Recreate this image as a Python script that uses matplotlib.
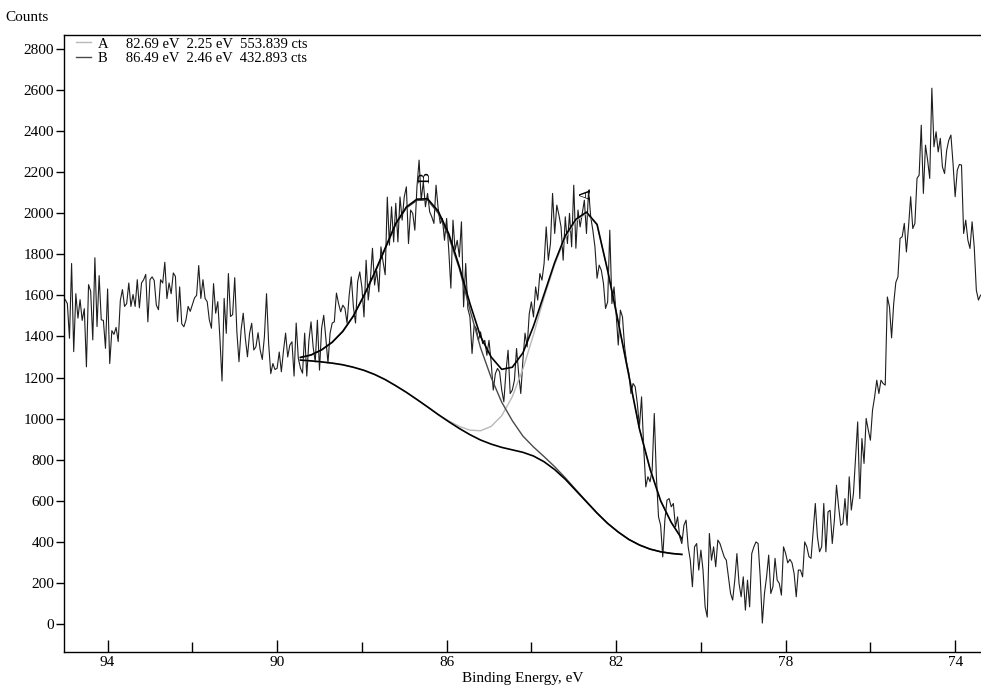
import numpy as np
import matplotlib
matplotlib.use("Agg")
import matplotlib.pyplot as plt
import matplotlib.ticker as mticker

plt.rcParams['font.family'] = 'Liberation Serif'
plt.rcParams['font.size'] = 11

# ---- data ----
e_start, e_step = 95.0, 0.05     # scan grid, eV (high -> low)

counts_a1 = [1579, 1560, 1391, 1755, 1326, 1608, 1489, 1579, 1478, 1535,
             1252, 1652, 1620, 1383, 1783, 1448, 1696, 1481, 1478, 1342,
             1631, 1268, 1428, 1410, 1444, 1375, 1575, 1628, 1546, 1560,
             1660, 1546, 1604, 1546, 1676, 1539, 1660, 1676, 1702, 1471,
             1676, 1690, 1672, 1552, 1530, 1676, 1660, 1761, 1584, 1660,
             1608, 1709, 1692, 1472, 1641, 1461, 1447, 1481, 1546, 1522,
             1555, 1587, 1600, 1745, 1585, 1676, 1585, 1569, 1481, 1440,
             1657, 1513, 1569, 1391, 1183, 1585, 1415, 1706, 1497, 1506,
             1686, 1423, 1277, 1431, 1513, 1391, 1301, 1415, 1464, 1334,
             1350, 1418, 1334, 1288, 1399, 1608, 1366, 1219, 1268, 1239,
             1245, 1324]
counts_a2 = [1228, 1330, 1416, 1300, 1358, 1374, 1207, 1465, 1294, 1246,
             1221, 1416, 1207, 1380, 1471, 1349, 1276, 1479, 1236, 1440,
             1503, 1390, 1270, 1416, 1465, 1471, 1611, 1560, 1520, 1552,
             1537, 1465, 1600, 1690, 1544, 1465, 1666, 1714, 1640, 1495,
             1771, 1577, 1674, 1829, 1650, 1720, 1617, 1836, 1763, 1700,
             2078, 1844, 2031]
counts_b = [1860, 2048, 1860, 2079, 1966, 2079, 2128, 1852, 2015, 1999,
            1917, 2128, 2258, 2063, 2152, 2031, 2096, 2006, 1982, 1950,
            2136, 2023, 1950, 1974, 1868, 1974, 1820, 1635, 1966, 1820,
            1868, 1787, 1958, 1544, 1755, 1536, 1495, 1317, 1454, 1438,
            1381, 1422, 1365, 1381, 1308, 1381, 1276, 1139, 1219, 1244,
            1228, 1139, 1082, 1228, 1333, 1122, 1139, 1187, 1341, 1219,
            1122, 1284, 1416, 1349, 1511, 1568, 1495, 1641, 1577, 1706,
            1674, 1755, 1933, 1771, 1852, 2096, 1901, 2039, 1991, 1933,
            1771, 1982, 1852, 1999, 1836, 2136, 1829, 2015, 1933, 1999,
            2063, 1901, 2112, 1982, 1917, 1836, 1683, 1747, 1722, 1660,
            1536, 1568, 1917]
counts_c = [1560, 1641, 1511, 1358, 1528, 1495, 1349, 1270, 1221, 1122,
            1171, 1155, 1074, 960, 1106, 863, 668, 717, 693, 749,
            1025, 717, 522, 481, 327, 506, 603, 611, 571, 587,
            473, 522, 425, 392, 481, 506, 376, 311,
            182, 376, 392, 263, 360, 263, 84, 34, 441,
            311, 376, 279, 409, 392, 360, 327, 311, 230,
            149, 117, 214, 343, 198, 133, 230, 68, 214, 84,
            343, 376, 400, 392, 230]
counts_d = [5, 149, 230, 336, 149, 182, 320, 214, 198,
            141, 376, 344, 298, 315, 298, 246, 133, 263, 263,
            230, 400, 376, 328, 320, 457, 587, 425, 352, 376,
            587, 352, 546, 554, 392, 506, 676, 571, 481,
            489, 611, 481, 717, 555, 636, 814, 984, 611, 903,
            782, 1001, 944, 895, 1041, 1106, 1187, 1122, 1187]
counts_e = [1171, 1163, 1592, 1544, 1393, 1560, 1663, 1690, 1877, 1885,
            1950, 1811, 1934, 2080, 1925, 1950, 2169, 2185, 2428, 2096,
            2331, 2258, 2169, 2608, 2323, 2396, 2298, 2364, 2225,
            2193, 2306, 2355, 2380, 2242, 2080, 2209, 2237, 2234,
            1901, 1966, 1869, 1828, 1958, 1836, 1625, 1577, 1601]

counts = np.array(counts_a1 + counts_a2 + counts_b + counts_c + counts_d + counts_e)
energy = np.round(e_start - e_step * np.arange(len(counts)), 2)

# fit curves, sampled every 0.25 eV over the fit window
fit_e_start, fit_step, fit_n = 89.45, 0.25, 37
background = [1285, 1281, 1276, 1270, 1262, 1250, 1235, 1215, 1190, 1160,
              1128, 1093, 1057, 1020, 985, 952, 922, 896, 876, 860,
              848, 836, 818, 790, 752, 705, 650, 595, 540, 490,
              448, 412, 385, 365, 352, 344, 339]
envelope = [1298, 1310, 1335, 1372, 1425, 1500, 1600, 1710, 1830, 1950,
            2030, 2068, 2070, 2010, 1900, 1740, 1560, 1400, 1300, 1240,
            1250, 1320, 1450, 1605, 1760, 1890, 1970, 2005, 1945, 1720,
            1470, 1210, 950, 755, 600, 495, 415]
comp_a = [1285, 1281, 1276, 1270, 1262, 1250, 1235, 1215, 1190, 1160,
          1128, 1093, 1057, 1020, 989, 962, 944, 941, 962, 1014,
          1107, 1241, 1409, 1590, 1750, 1880, 1962, 2000, 1943, 1719,
          1470, 1210, 950, 755, 600, 495, 415]
comp_b = [1297, 1309, 1334, 1371, 1424, 1499, 1598, 1707, 1826, 1946,
          2025, 2062, 2064, 2000, 1885, 1730, 1530, 1345, 1200, 1080,
          990, 915, 862, 815, 766, 712, 654, 597, 541, 490,
          448, 412, 385, 365, 352, 344, 339]
fit_energy = np.round(fit_e_start - fit_step * np.arange(fit_n), 2)

peak_names = ['A', 'B']
peak_pos = [82.69, 86.49]
peak_fwhm = [2.25, 2.46]
peak_cts = ['553.839', '432.893']
peak_label_y = [2095, 2173]

x_major = [94, 90, 86, 82, 78, 74]
x_minor = [92, 88, 84, 80, 76]
y_ticks = list(range(0, 2801, 200))

# ---- figure ----
fig = plt.figure(figsize=(9.81, 6.90), dpi=100)
ax = fig.add_axes([0.0652, 0.055, 0.9348, 0.894])

ax.plot(energy, counts, color='#1e1e1e', lw=0.8, zorder=2)
la, = ax.plot(fit_energy, comp_a, color='#b8b8b8', lw=1.0, zorder=3)
lb, = ax.plot(fit_energy, comp_b, color='#4a4a4a', lw=1.0, zorder=3)
ax.plot(fit_energy, background, color='black', lw=1.2, zorder=4)
ax.plot(fit_energy, envelope, color='black', lw=1.2, zorder=4)

for name, pos, ly in zip(peak_names, peak_pos, peak_label_y):
    ax.text(pos, ly, name, rotation=90, ha='center', va='center', fontsize=12, zorder=5)

labels = [f'{n}{"":5s}{p:.2f} eV  {w:.2f} eV  {c} cts'
          for n, p, w, c in zip(peak_names, peak_pos, peak_fwhm, peak_cts)]
ax.legend([la, lb], labels, loc='upper left', bbox_to_anchor=(0.011, 1.0),
          frameon=False, fontsize=10.5, handlelength=1.0, handletextpad=0.5,
          labelspacing=0.1, borderaxespad=0.0, borderpad=0.15)

ax.set_xlim(95.03, 73.39)
ax.set_ylim(-136, 2866)

ax.xaxis.set_major_locator(mticker.FixedLocator(x_major))
ax.xaxis.set_minor_locator(mticker.FixedLocator(x_minor))
ax.xaxis.set_major_formatter(mticker.FormatStrFormatter('%d'))
ax.tick_params(axis='x', which='major', direction='in', length=9, width=1, labelsize=11, pad=3)
ax.tick_params(axis='x', which='minor', direction='in', length=7, width=1)
ax.set_yticks(y_ticks)
ax.tick_params(axis='y', direction='out', length=6, width=1, labelsize=11, pad=1)

ax.spines['right'].set_visible(False)
for s in ['left', 'bottom', 'top']:
    ax.spines[s].set_linewidth(1.0)

ax.set_xlabel('Binding Energy, eV', fontsize=11, labelpad=2)
fig.text(0.005, 0.974, 'Counts', fontsize=11, va='center', ha='left')

fig.savefig('out.png', dpi=100)
